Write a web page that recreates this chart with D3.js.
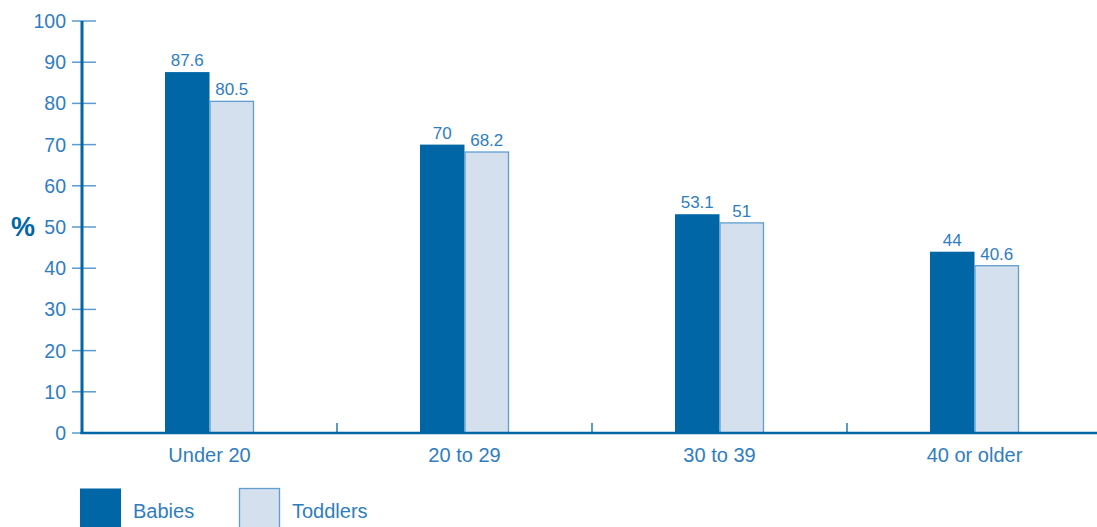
<!DOCTYPE html>
<html><head><meta charset="utf-8">
<script src="https://cdn.jsdelivr.net/npm/d3@7"></script>
<style>
html,body{margin:0;padding:0;background:#fff;}
svg{display:block;font-family:"Liberation Sans",Arial,Helvetica,sans-serif;}
</style></head>
<body>
<svg id="chart" width="1097" height="527"></svg>
<script>
const categories = ["Under 20", "20 to 29", "30 to 39", "40 or older"];
const seriesNames = ["Babies", "Toddlers"];
const babies = [87.6, 70, 53.1, 44];
const toddlers = [80.5, 68.2, 51, 40.6];
const yTicks = [0, 10, 20, 30, 40, 50, 60, 70, 80, 90, 100];

const dark = "#0066a6", lightFill = "#d5e0ee", lightStroke = "#5f9dd0", textCol = "#2f7dbf", tickCol = "#5a9bd0";

const svg = d3.select("#chart");
const x0 = d3.scaleBand().domain(categories).range([82, 1102]).paddingInner(0).paddingOuter(0);
const y = d3.scaleLinear().domain([0, 100]).range([433, 21]);
const x1 = d3.scaleBand().domain(seriesNames).range([0, 89]);
const groupOffset = (x0.bandwidth() - 89) / 2;

const data = categories.map((c, i) => ({cat: c, vals: [
  {s: "Babies", v: babies[i]}, {s: "Toddlers", v: toddlers[i]}]}));

// y ticks
const yAxisG = svg.append("g");
yAxisG.selectAll("line.tick").data(yTicks).join("line")
  .attr("x1", 72).attr("x2", 96)
  .attr("y1", d => y(d)).attr("y2", d => y(d))
  .attr("stroke", tickCol).attr("stroke-width", 1.5);
yAxisG.selectAll("text").data(yTicks).join("text")
  .attr("x", 66).attr("y", d => y(d)).attr("dy", "0.36em")
  .attr("text-anchor", "end").attr("font-size", 19.5).attr("fill", textCol)
  .text(d => d);

// bars
const groups = svg.append("g").selectAll("g").data(data).join("g")
  .attr("transform", d => `translate(${x0(d.cat) + groupOffset},0)`);
groups.selectAll("rect").data(d => d.vals).join("rect")
  .attr("x", d => x1(d.s) + (d.s === "Toddlers" ? 0.5 : 0))
  .attr("width", d => x1.bandwidth() - (d.s === "Toddlers" ? 1 : 0))
  .attr("y", d => y(d.v))
  .attr("height", d => y(0) - y(d.v))
  .attr("fill", d => d.s === "Babies" ? dark : lightFill)
  .attr("stroke", d => d.s === "Babies" ? "none" : lightStroke)
  .attr("stroke-width", 1.3);
groups.selectAll("text").data(d => d.vals).join("text")
  .attr("x", d => x1(d.s) + x1.bandwidth() / 2)
  .attr("y", d => y(d.v) - 6)
  .attr("text-anchor", "middle").attr("font-size", 17).attr("fill", textCol)
  .text(d => d.v);

// x axis separators
svg.append("g").selectAll("line").data(categories.slice(1)).join("line")
  .attr("x1", d => x0(d)).attr("x2", d => x0(d))
  .attr("y1", 423).attr("y2", 433)
  .attr("stroke", dark).attr("stroke-width", 1.3);

// axes lines
svg.append("line").attr("x1", 82).attr("x2", 82).attr("y1", 21).attr("y2", 434)
  .attr("stroke", dark).attr("stroke-width", 3);
svg.append("line").attr("x1", 80.5).attr("x2", 1097).attr("y1", 433).attr("y2", 433)
  .attr("stroke", dark).attr("stroke-width", 2.5);

// category labels
svg.append("g").selectAll("text").data(categories).join("text")
  .attr("x", d => x0(d) + x0.bandwidth() / 2)
  .attr("y", 462)
  .attr("text-anchor", "middle").attr("font-size", 20).attr("fill", textCol)
  .text(d => d);

// % label
svg.append("text").attr("x", 11).attr("y", 236)
  .attr("font-size", 27).attr("font-weight", "bold").attr("fill", dark).text("%");

// legend
const legX = [80, 239];
const leg = svg.append("g").selectAll("g").data(seriesNames).join("g")
  .attr("transform", (d, i) => `translate(${legX[i]},488)`);
leg.append("rect").attr("x", (d,i)=> i ? 0.5 : 0).attr("y", 0.5)
  .attr("width", (d,i)=> i ? 40 : 41).attr("height", 45)
  .attr("fill", d => d === "Babies" ? dark : lightFill)
  .attr("stroke", d => d === "Babies" ? "none" : lightStroke).attr("stroke-width", 1.3);
leg.append("text").attr("x", 53).attr("y", 30)
  .attr("font-size", 20).attr("fill", textCol).text(d => d);
</script>
</body></html>
